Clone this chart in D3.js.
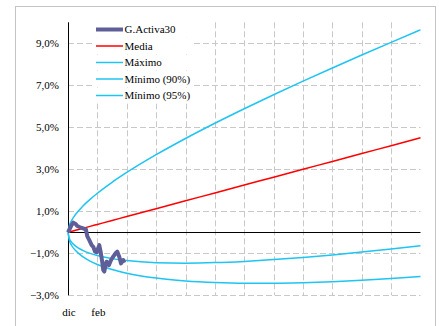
<!DOCTYPE html>
<html><head><meta charset="utf-8">
<script src="https://cdn.jsdelivr.net/npm/d3@7"></script>
<style>body{margin:0;background:#fff}svg{display:block}text{font-family:"Liberation Serif","Times New Roman",serif;font-size:11px;fill:#000}</style>
</head><body><svg id="c" width="439" height="326"></svg>
<script>
// x in months since "dic"
const bandX = [0, 0.1, 0.25, 0.5, 1, 1.5, 2, 3, 4, 6, 8, 10, 12, 14, 16, 18, 20, 22, 24];
const media = [0, 0.019, 0.047, 0.094, 0.188, 0.281, 0.375, 0.563, 0.75, 1.125, 1.5, 1.875, 2.25, 2.625, 3.0, 3.375, 3.75, 4.125, 4.5];
const maximo = [0, 0.351, 0.572, 0.836, 1.237, 1.566, 1.859, 2.380, 2.848, 3.695, 4.468, 5.193, 5.885, 6.551, 7.197, 7.826, 8.442, 9.046, 9.64];
const minimo90 = [0, -0.313, -0.478, -0.648, -0.861, -1.004, -1.109, -1.254, -1.348, -1.445, -1.468, -1.443, -1.385, -1.301, -1.197, -1.076, -0.942, -0.796, -0.64];
const minimo95 = [0, -0.408, -0.628, -0.860, -1.161, -1.372, -1.533, -1.774, -1.949, -2.18, -2.316, -2.392, -2.424, -2.423, -2.397, -2.349, -2.284, -2.204, -2.11];
const activaX = [0, 0.25, 0.36, 0.52, 0.63, 0.82, 1.09, 1.22, 1.31, 1.45, 1.61, 1.72, 1.84, 1.95, 2.13, 2.22, 2.33, 2.40, 2.47, 2.56, 2.63, 2.79, 2.93, 3.08, 3.27, 3.35, 3.49, 3.61, 3.69, 3.76, 3.83];
const activa = [0, 0.35, 0.46, 0.40, 0.30, 0.24, 0.17, 0.14, -0.18, -0.37, -0.61, -0.69, -0.92, -0.95, -0.61, -0.92, -1.40, -1.79, -1.87, -1.56, -1.40, -1.56, -1.32, -1.16, -0.97, -0.92, -1.16, -1.48, -1.40, -1.32, -1.45];
const yTicks = [-3, -1, 1, 3, 5, 7, 9];
const xGrid = [2, 4, 6, 8, 10, 12, 14, 16, 18, 20, 22];
const xLabels = [{m: 0, label: "dic"}, {m: 2, label: "feb"}];
const legendNames = ["G.Activa30", "Media", "Máximo", "Mínimo (90%)", "Mínimo (95%)"];
const colors = {activa: "#5e5e98", media: "#ff0000", cyan: "#1ec4f2"};

const svg = d3.select("#c");
const x = d3.scaleLinear().domain([0, 24]).range([68, 420.5]);
const y = d3.scaleLinear().domain([-3, 10]).range([295.3, 22.3]);

svg.append("rect").attr("x", 15.5).attr("y", 6.5).attr("width", 420).attr("height", 330)
  .attr("fill", "#fff").attr("stroke", "#c4c4c4");

// gridlines
svg.append("g").selectAll("line").data(yTicks).join("line")
  .attr("x1", x(0)).attr("x2", x(24)).attr("y1", d => Math.round(y(d)) + 0.5).attr("y2", d => Math.round(y(d)) + 0.5)
  .attr("stroke", "#c8c8c8").attr("stroke-dasharray", "6,3");
svg.append("g").selectAll("line").data(xGrid).join("line")
  .attr("x1", d => Math.round(x(d)) + 0.5).attr("x2", d => Math.round(x(d)) + 0.5).attr("y1", y(10)).attr("y2", y(-3))
  .attr("stroke", "#c8c8c8").attr("stroke-dasharray", "6,3");

// axes
const yAxis = d3.axisLeft(y).tickValues(yTicks).tickSize(0).tickPadding(9)
  .tickFormat(d => d3.format(".1f")(d).replace(".", ",") + "%");
const gy = svg.append("g").attr("transform", `translate(${x(0)},0)`).call(yAxis);
gy.select(".domain").attr("stroke", "#000").attr("d", `M0.5,${y(10)}V${y(-3)}`);
gy.selectAll("text").style("font-family", null).style("font-size", null).attr("font-family", null).attr("font-size", null);

svg.append("line").attr("x1", x(0)).attr("x2", x(24)).attr("y1", Math.round(y(0)) + 0.5).attr("y2", Math.round(y(0)) + 0.5)
  .attr("stroke", "#000");

svg.append("g").selectAll("text").data(xLabels).join("text")
  .attr("x", d => x(d.m) + 1).attr("y", 316).attr("text-anchor", "middle").text(d => d.label);

// series
const line = (xs, ys) => d3.line().x((d, i) => x(xs[i])).y(d => y(d)).curve(d3.curveMonotoneX)(ys);
svg.append("path").attr("d", line(bandX, maximo)).attr("fill", "none").attr("stroke", colors.cyan).attr("stroke-width", 1.5);
svg.append("path").attr("d", line(bandX, minimo90)).attr("fill", "none").attr("stroke", colors.cyan).attr("stroke-width", 1.5);
svg.append("path").attr("d", line(bandX, minimo95)).attr("fill", "none").attr("stroke", colors.cyan).attr("stroke-width", 1.5);
svg.append("path").attr("d", line(bandX, media)).attr("fill", "none").attr("stroke", colors.media).attr("stroke-width", 1.5);
svg.append("path").attr("d", d3.line().x((d, i) => x(activaX[i])).y(d => y(d)).curve(d3.curveLinear)(activa))
  .attr("fill", "none").attr("stroke", colors.activa).attr("stroke-width", 4).attr("stroke-linejoin", "round");

// legend
const legColors = [colors.activa, colors.media, colors.cyan, colors.cyan, colors.cyan];
const legW = [4, 1.5, 1.5, 1.5, 1.5];
const lg = svg.append("g").selectAll("g").data(legendNames).join("g")
  .attr("transform", (d, i) => `translate(96,${29.5 + i * 16.5})`);
lg.append("rect").attr("x", -2).attr("y", -8).attr("width", 100).attr("height", 16).attr("fill", "#fff");
lg.append("line").attr("x1", 0).attr("x2", 27).attr("stroke", (d, i) => legColors[i]).attr("stroke-width", (d, i) => legW[i]);
lg.append("text").attr("x", 28.5).attr("dy", "0.35em").text(d => d);
</script></body></html>
